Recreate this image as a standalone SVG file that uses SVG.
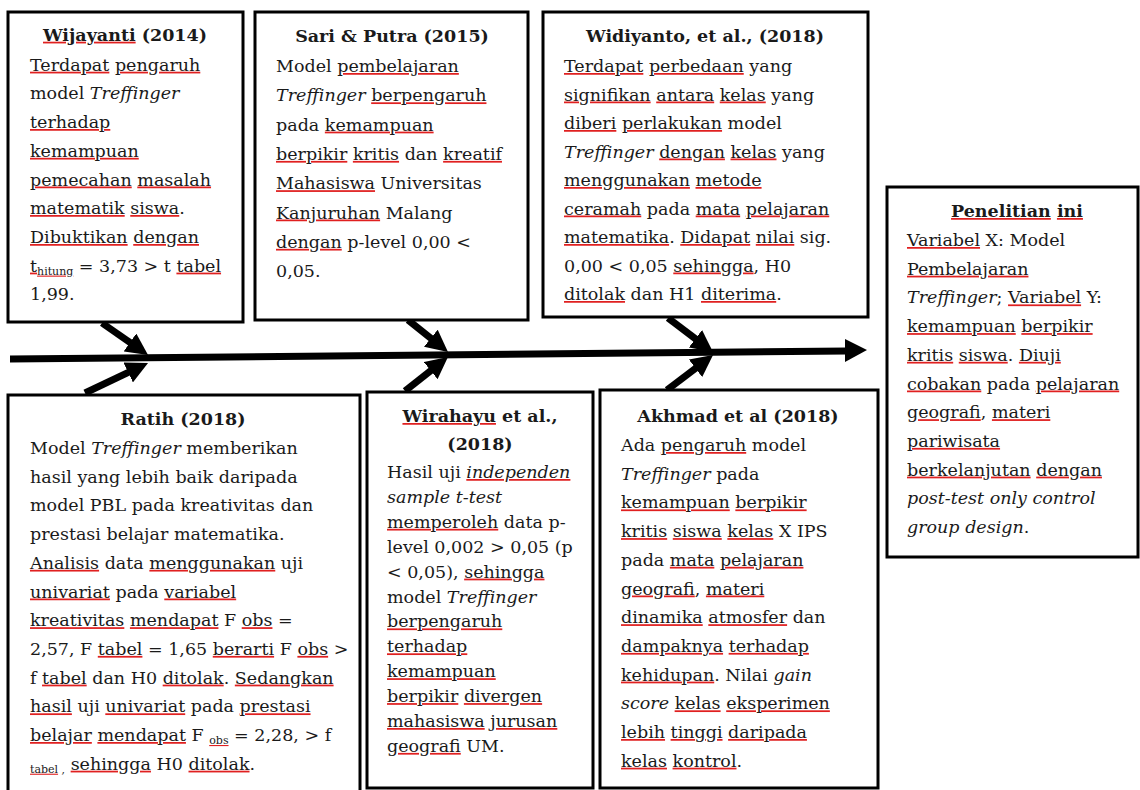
<svg xmlns="http://www.w3.org/2000/svg" width="1140" height="790" viewBox="0 0 1140 790">
<style>
rect.box { fill: #fff; stroke: #000; stroke-width: 3; }
text { font-family: "DejaVu Serif", "Liberation Serif", serif; font-size: 17.5px; fill: #1a1a1a; }
.t { font-weight: bold; text-anchor: middle; }
.i { font-style: italic; }
.w { fill: #e02020; text-decoration: underline wavy; }
.w tspan { fill: #1a1a1a; }
.sub { font-size: 11px; }
.conn line { stroke: #000; stroke-width: 7; }
</style>
<defs>
<marker id="ah" markerUnits="userSpaceOnUse" markerWidth="22" markerHeight="22" viewBox="0 0 22 22" refX="6" refY="11" orient="auto">
<path d="M0,0 L22,11 L0,22 z" fill="#000"/>
</marker>
</defs>
<rect width="1140" height="790" fill="#fff"/>

<g id="connectors" class="conn">
<line x1="10" y1="359" x2="847" y2="351"/>
<polygon points="845,339 867,350 845,362" fill="#000"/>
<line x1="102" y1="323" x2="134.9" y2="345.9" marker-end="url(#ah)"/>
<line x1="408" y1="320" x2="435.5" y2="342" marker-end="url(#ah)"/>
<line x1="668" y1="318" x2="700.2" y2="342.4" marker-end="url(#ah)"/>
<line x1="85" y1="393" x2="133.6" y2="369.9" marker-end="url(#ah)"/>
<line x1="405" y1="391" x2="435.4" y2="366.9" marker-end="url(#ah)"/>
<line x1="667" y1="390" x2="700.3" y2="364.7" marker-end="url(#ah)"/>
</g>

<g id="wijayanti">
<rect class="box" x="8" y="12" width="235" height="310"/>
<text class="t" x="125" y="40.7"><tspan class="w"><tspan>Wijayanti</tspan></tspan> (2014)</text>
<text x="30" y="70.7"><tspan class="w"><tspan>Terdapat</tspan></tspan> <tspan class="w"><tspan>pengaruh</tspan></tspan></text>
<text x="30" y="99.4">model <tspan class="i">Treffinger</tspan></text>
<text x="30" y="128"><tspan class="w"><tspan>terhadap</tspan></tspan></text>
<text x="30" y="156.8"><tspan class="w"><tspan>kemampuan</tspan></tspan></text>
<text x="30" y="185.5"><tspan class="w"><tspan>pemecahan</tspan></tspan> <tspan class="w"><tspan>masalah</tspan></tspan></text>
<text x="30" y="214"><tspan class="w"><tspan>matematik</tspan></tspan> <tspan class="w"><tspan>siswa</tspan></tspan>.</text>
<text x="30" y="243"><tspan class="w"><tspan>Dibuktikan</tspan></tspan> <tspan class="w"><tspan>dengan</tspan></tspan></text>
<text x="30" y="271.6"><tspan class="w"><tspan>t</tspan><tspan class="sub" dy="3">hitung</tspan></tspan><tspan dy="-3"> = 3,73 &gt; t </tspan><tspan class="w"><tspan>tabel</tspan></tspan></text>
<text x="30" y="300.3">1,99.</text>
</g>

<g id="sari-putra">
<rect class="box" x="255" y="12" width="273" height="308"/>
<text class="t" x="392" y="42">Sari &amp; Putra (2015)</text>
<text x="276" y="72">Model <tspan class="w"><tspan>pembelajaran</tspan></tspan></text>
<text x="276" y="101.3"><tspan class="i">Treffinger</tspan> <tspan class="w"><tspan>berpengaruh</tspan></tspan></text>
<text x="276" y="130.6">pada <tspan class="w"><tspan>kemampuan</tspan></tspan></text>
<text x="276" y="159.9"><tspan class="w"><tspan>berpikir</tspan></tspan> <tspan class="w"><tspan>kritis</tspan></tspan> dan <tspan class="w"><tspan>kreatif</tspan></tspan></text>
<text x="276" y="189.2"><tspan class="w"><tspan>Mahasiswa</tspan></tspan> Universitas</text>
<text x="276" y="218.5"><tspan class="w"><tspan>Kanjuruhan</tspan></tspan> Malang</text>
<text x="276" y="247.8"><tspan class="w"><tspan>dengan</tspan></tspan> p-level 0,00 &lt;</text>
<text x="276" y="277">0,05.</text>
</g>

<g id="widiyanto">
<rect class="box" x="543" y="12" width="325" height="305"/>
<text class="t" x="705" y="42">Widiyanto, et al., (2018)</text>
<text x="564" y="72"><tspan class="w"><tspan>Terdapat</tspan></tspan> <tspan class="w"><tspan>perbedaan</tspan></tspan> yang</text>
<text x="564" y="100.5"><tspan class="w"><tspan>signifikan</tspan></tspan> <tspan class="w"><tspan>antara</tspan></tspan> <tspan class="w"><tspan>kelas</tspan></tspan> yang</text>
<text x="564" y="129"><tspan class="w"><tspan>diberi</tspan></tspan> <tspan class="w"><tspan>perlakukan</tspan></tspan> model</text>
<text x="564" y="157.5"><tspan class="i">Treffinger</tspan> <tspan class="w"><tspan>dengan</tspan></tspan> <tspan class="w"><tspan>kelas</tspan></tspan> yang</text>
<text x="564" y="186"><tspan class="w"><tspan>menggunakan</tspan></tspan> <tspan class="w"><tspan>metode</tspan></tspan></text>
<text x="564" y="214.5"><tspan class="w"><tspan>ceramah</tspan></tspan> pada <tspan class="w"><tspan>mata</tspan></tspan> <tspan class="w"><tspan>pelajaran</tspan></tspan></text>
<text x="564" y="243"><tspan class="w"><tspan>matematika</tspan></tspan>. <tspan class="w"><tspan>Didapat</tspan></tspan> <tspan class="w"><tspan>nilai</tspan></tspan> sig.</text>
<text x="564" y="271.5">0,00 &lt; 0,05 <tspan class="w"><tspan>sehingga</tspan></tspan>, H0</text>
<text x="564" y="300"><tspan class="w"><tspan>ditolak</tspan></tspan> dan H1 <tspan class="w"><tspan>diterima</tspan></tspan>.</text>
</g>

<g id="penelitian-ini">
<rect class="box" x="887" y="187" width="251" height="370"/>
<text class="t" x="1017" y="217"><tspan class="w"><tspan>Penelitian</tspan></tspan> <tspan class="w"><tspan>ini</tspan></tspan></text>
<text x="907" y="246"><tspan class="w"><tspan>Variabel</tspan></tspan> X: Model</text>
<text x="907" y="274.7"><tspan class="w"><tspan>Pembelajaran</tspan></tspan></text>
<text x="907" y="303.4"><tspan class="i">Treffinger</tspan>; <tspan class="w"><tspan>Variabel</tspan></tspan> Y:</text>
<text x="907" y="332.1"><tspan class="w"><tspan>kemampuan</tspan></tspan> <tspan class="w"><tspan>berpikir</tspan></tspan></text>
<text x="907" y="360.8"><tspan class="w"><tspan>kritis</tspan></tspan> <tspan class="w"><tspan>siswa</tspan></tspan>. <tspan class="w"><tspan>Diuji</tspan></tspan></text>
<text x="907" y="389.5"><tspan class="w"><tspan>cobakan</tspan></tspan> pada <tspan class="w"><tspan>pelajaran</tspan></tspan></text>
<text x="907" y="418.2"><tspan class="w"><tspan>geografi</tspan></tspan>, <tspan class="w"><tspan>materi</tspan></tspan></text>
<text x="907" y="446.9"><tspan class="w"><tspan>pariwisata</tspan></tspan></text>
<text x="907" y="475.6"><tspan class="w"><tspan>berkelanjutan</tspan></tspan> <tspan class="w"><tspan>dengan</tspan></tspan></text>
<text x="907" y="504.3" class="i">post-test only control</text>
<text x="907" y="533"><tspan class="i">group design</tspan>.</text>
</g>

<g id="ratih">
<rect class="box" x="8" y="395" width="352" height="400"/>
<text class="t" x="183" y="425">Ratih (2018)</text>
<text x="30" y="454">Model <tspan class="i">Treffinger</tspan> memberikan</text>
<text x="30" y="482.7">hasil yang lebih baik daripada</text>
<text x="30" y="511.4">model PBL pada kreativitas dan</text>
<text x="30" y="540.1">prestasi belajar matematika.</text>
<text x="30" y="568.8"><tspan class="w"><tspan>Analisis</tspan></tspan> data <tspan class="w"><tspan>menggunakan</tspan></tspan> uji</text>
<text x="30" y="597.5"><tspan class="w"><tspan>univariat</tspan></tspan> pada <tspan class="w"><tspan>variabel</tspan></tspan></text>
<text x="30" y="626.2"><tspan class="w"><tspan>kreativitas</tspan></tspan> <tspan class="w"><tspan>mendapat</tspan></tspan> F <tspan class="w"><tspan>obs</tspan></tspan> =</text>
<text x="30" y="654.9">2,57, F <tspan class="w"><tspan>tabel</tspan></tspan> = 1,65 <tspan class="w"><tspan>berarti</tspan></tspan> F <tspan class="w"><tspan>obs</tspan></tspan> &gt;</text>
<text x="30" y="683.6">f <tspan class="w"><tspan>tabel</tspan></tspan> dan H0 <tspan class="w"><tspan>ditolak</tspan></tspan>. <tspan class="w"><tspan>Sedangkan</tspan></tspan></text>
<text x="30" y="712.3"><tspan class="w"><tspan>hasil</tspan></tspan> uji <tspan class="w"><tspan>univariat</tspan></tspan> pada <tspan class="w"><tspan>prestasi</tspan></tspan></text>
<text x="30" y="741"><tspan class="w"><tspan>belajar</tspan></tspan> <tspan class="w"><tspan>mendapat</tspan></tspan> F <tspan class="sub w" dy="3"><tspan>obs</tspan></tspan><tspan dy="-3"> = 2,28, &gt; f</tspan></text>
<text x="30" y="769.7"><tspan class="sub w" dy="3"><tspan>tabel</tspan></tspan><tspan class="sub"> ,</tspan><tspan dy="-3"> </tspan><tspan class="w"><tspan>sehingga</tspan></tspan> H0 <tspan class="w"><tspan>ditolak</tspan></tspan>.</text>
</g>

<g id="wirahayu">
<rect class="box" x="367" y="392" width="226" height="396"/>
<text class="t" x="480" y="422"><tspan class="w"><tspan>Wirahayu</tspan></tspan> et al.,</text>
<text class="t" x="480" y="450">(2018)</text>
<text x="387" y="478">Hasil uji <tspan class="i w"><tspan>independen</tspan></tspan></text>
<text x="387" y="502.9" class="i">sample t-test</text>
<text x="387" y="527.8"><tspan class="w"><tspan>memperoleh</tspan></tspan> data p-</text>
<text x="387" y="552.7">level 0,002 &gt; 0,05 (p</text>
<text x="387" y="577.6">&lt; 0,05), <tspan class="w"><tspan>sehingga</tspan></tspan></text>
<text x="387" y="602.5">model <tspan class="i">Treffinger</tspan></text>
<text x="387" y="627.4"><tspan class="w"><tspan>berpengaruh</tspan></tspan></text>
<text x="387" y="652.3"><tspan class="w"><tspan>terhadap</tspan></tspan></text>
<text x="387" y="677.2"><tspan class="w"><tspan>kemampuan</tspan></tspan></text>
<text x="387" y="702.1"><tspan class="w"><tspan>berpikir</tspan></tspan> <tspan class="w"><tspan>divergen</tspan></tspan></text>
<text x="387" y="727"><tspan class="w"><tspan>mahasiswa</tspan></tspan> <tspan class="w"><tspan>jurusan</tspan></tspan></text>
<text x="387" y="751.9"><tspan class="w"><tspan>geografi</tspan></tspan> UM.</text>
</g>

<g id="akhmad">
<rect class="box" x="600" y="390" width="278" height="398"/>
<text class="t" x="738" y="422">Akhmad et al (2018)</text>
<text x="621" y="451">Ada <tspan class="w"><tspan>pengaruh</tspan></tspan> model</text>
<text x="621" y="479.7"><tspan class="i">Treffinger</tspan> pada</text>
<text x="621" y="508.4"><tspan class="w"><tspan>kemampuan</tspan></tspan> <tspan class="w"><tspan>berpikir</tspan></tspan></text>
<text x="621" y="537.1"><tspan class="w"><tspan>kritis</tspan></tspan> <tspan class="w"><tspan>siswa</tspan></tspan> <tspan class="w"><tspan>kelas</tspan></tspan> X IPS</text>
<text x="621" y="565.8">pada <tspan class="w"><tspan>mata</tspan></tspan> <tspan class="w"><tspan>pelajaran</tspan></tspan></text>
<text x="621" y="594.5"><tspan class="w"><tspan>geografi</tspan></tspan>, <tspan class="w"><tspan>materi</tspan></tspan></text>
<text x="621" y="623.2"><tspan class="w"><tspan>dinamika</tspan></tspan> <tspan class="w"><tspan>atmosfer</tspan></tspan> dan</text>
<text x="621" y="651.9"><tspan class="w"><tspan>dampaknya</tspan></tspan> <tspan class="w"><tspan>terhadap</tspan></tspan></text>
<text x="621" y="680.6"><tspan class="w"><tspan>kehidupan</tspan></tspan>. Nilai <tspan class="i">gain</tspan></text>
<text x="621" y="709.3"><tspan class="i">score</tspan> <tspan class="w"><tspan>kelas</tspan></tspan> <tspan class="w"><tspan>eksperimen</tspan></tspan></text>
<text x="621" y="738"><tspan class="w"><tspan>lebih</tspan></tspan> <tspan class="w"><tspan>tinggi</tspan></tspan> <tspan class="w"><tspan>daripada</tspan></tspan></text>
<text x="621" y="766.7"><tspan class="w"><tspan>kelas</tspan></tspan> <tspan class="w"><tspan>kontrol</tspan></tspan>.</text>
</g>
</svg>
